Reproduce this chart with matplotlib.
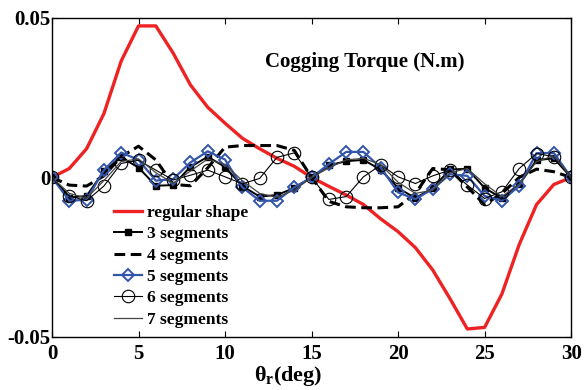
import numpy as np
import matplotlib
matplotlib.use("Agg")
import matplotlib.pyplot as plt

plt.rcParams['font.family'] = ['Liberation Serif', 'DejaVu Serif']
plt.rcParams['font.weight'] = 'bold'
plt.rcParams['mathtext.fontset'] = 'custom'
plt.rcParams['mathtext.rm'] = 'Liberation Serif:bold'
plt.rcParams['mathtext.it'] = 'Liberation Serif:bold'
plt.rcParams['mathtext.bf'] = 'Liberation Serif:bold'

# rotor position (deg)
theta = np.arange(0, 31)

# cogging torque (N.m) per skew configuration
regular = [0, 0.0028, 0.009, 0.020, 0.0365, 0.0475, 0.0475, 0.039, 0.029, 0.022,
           0.017, 0.0123, 0.009, 0.006, 0.0035, 0.0, -0.0028, -0.0055, -0.0085, -0.013,
           -0.017, -0.022, -0.029, -0.038, -0.0475, -0.047, -0.0365, -0.021, -0.0085, -0.0022, 0]
seg3 = [0, -0.0063, -0.0058, 0.002, 0.0063, 0.0031, -0.0026, -0.0024, 0.0033, 0.0065,
        0.0033, -0.0027, -0.006, -0.0055, -0.0033, 0, 0.0038, 0.0051, 0.0055, 0.0024,
        -0.0033, -0.0065, -0.0033, 0.0025, 0.0027, -0.0033, -0.0065, -0.0022, 0.0054, 0.006, 0]
seg4 = [0, -0.0024, -0.0027, 0.0005, 0.0065, 0.0098, 0.0055, -0.0022, -0.0026, 0.003,
        0.0095, 0.010, 0.010, 0.010, 0.0085, 0, -0.0075, -0.0092, -0.0095, -0.0095,
        -0.0092, -0.005, 0.0028, 0.0024, -0.003, -0.0085, -0.005, 0, 0.0026, 0.0018, 0]
seg5 = [0, -0.0073, -0.007, 0.0023, 0.0078, 0.0055, -0.001, -0.0005, 0.0047, 0.0082,
        0.0056, -0.0031, -0.0073, -0.0073, -0.0031, 0, 0.0042, 0.008, 0.008, 0.0031,
        -0.0047, -0.0068, -0.0036, 0.001, 0.0005, -0.0058, -0.0073, -0.0026, 0.0076, 0.0077, 0]
seg6 = [0, -0.0058, -0.0073, -0.0027, 0.0044, 0.0054, 0.0023, -0.0008, 0.0007, 0.0023,
        0.0002, -0.002, -0.0003, 0.0063, 0.0077, 0, -0.0069, -0.006, 0.0002, 0.0039,
        0.0002, -0.0019, 0.0005, 0.0023, -0.0024, -0.0066, -0.0045, 0.0028, 0.0075, 0.0065, 0]
seg7 = [0, -0.005, -0.0065, -0.001, 0.005, 0.0058, 0.0015, -0.0018, 0.002, 0.0058,
        0.004, -0.001, -0.005, -0.0062, -0.004, 0, 0.003, 0.0055, 0.006, 0.004,
        -0.0015, -0.005, -0.004, 0.0015, 0.0028, -0.002, -0.006, -0.002, 0.005, 0.0068, 0]

fig = plt.figure(figsize=(5.84, 3.90), dpi=100)
ax = fig.add_axes([0.089, 0.136, 0.889, 0.818])

ax.plot(theta, regular, color='#ee2222', lw=2.4, label='regular shape')
ax.plot(theta, seg3, color='k', lw=1.4, marker='s', ms=5, mfc='k', mec='k',
        label='3 segments')
ax.plot(theta, seg4, color='k', lw=2.2, ls=(0, (3.5, 1.8)), label='4 segments')
ax.plot(theta, seg5, color='#3355aa', lw=1.6, marker='D', ms=6.5, mfc='none',
        mec='#3355aa', mew=1.4, label='5 segments')
ax.plot(theta, seg6, color='k', lw=0.8, marker='o', ms=9, mfc='none', mec='k',
        mew=0.8, label='6 segments')
ax.plot(theta, seg7, color='#444444', lw=0.9, label='7 segments')

ax.set_xlim(0, 30)
ax.set_ylim(-0.05, 0.05)
ax.set_xticks([0, 5, 10, 15, 20, 25, 30])
ax.set_yticks([-0.05, 0, 0.05])
ax.set_yticklabels(['-0.05', '0', '0.05'])
ax.tick_params(direction='in', top=True, right=True, labelsize=15, length=4, pad=1)
ax.tick_params(axis='x', pad=5)
for lab in ax.get_xticklabels() + ax.get_yticklabels():
    lab.set_fontweight('bold')
for sp in ax.spines.values():
    sp.set_linewidth(1.0)

ax.set_xlabel(r'$\theta_r$(deg)', fontsize=16, fontweight='bold')
ax.xaxis.set_label_coords(0.455, -0.085, transform=ax.transAxes)
ax.xaxis.label.set_va('top')
ax.text(0.602, 0.862, 'Cogging Torque (N.m)', transform=ax.transAxes,
        ha='center', va='center', fontsize=15, fontweight='bold')

ax.legend(loc='lower left', bbox_to_anchor=(0.09, -0.02), frameon=False,
          handlelength=1.6, handletextpad=0.3, labelspacing=0.3,
          prop={'size': 12.5, 'weight': 'bold'})

fig.savefig('out.png', dpi=100)
